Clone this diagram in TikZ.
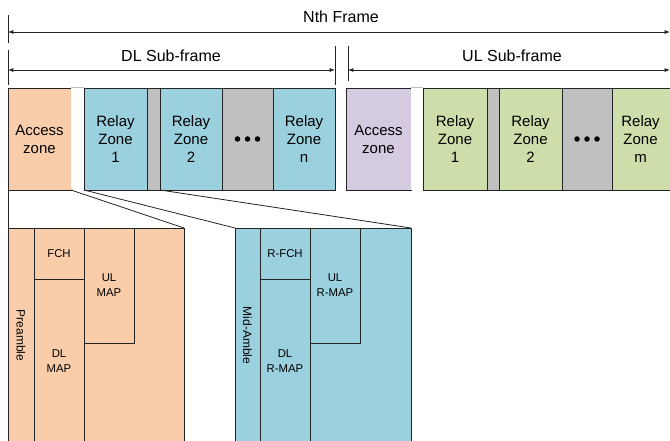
\documentclass[tikz,border=0pt]{standalone}
\usepackage{fontspec}
\setmainfont{Liberation Sans}
\usetikzlibrary{arrows.meta}
\definecolor{peach}{RGB}{250,205,170}
\definecolor{zblue}{RGB}{155,208,222}
\definecolor{zgray}{RGB}{192,192,192}
\definecolor{zpurple}{RGB}{213,203,225}
\definecolor{zgreen}{RGB}{205,222,170}
\definecolor{edge}{RGB}{35,35,35}
\newcommand\zonefont{\fontsize{11.25}{13.5}\selectfont}
\newcommand\lblfont{\fontsize{12}{14}\selectfont}
\newcommand\smallfont{\fontsize{8.5}{11.25}\selectfont}
\newcommand\rotfont{\fontsize{9}{11}\selectfont}
\begin{document}
\begin{tikzpicture}[x=0.75pt,y=-0.75pt,
  sz/.style 2 args={minimum width=#1*0.75pt,minimum height=#2*0.75pt},
  zone/.style={draw=edge,line width=0.7pt,inner sep=0pt,outer sep=0pt,anchor=north west,align=center,font=\zonefont},
  sbox/.style={zone,font=\smallfont},
  gapbox/.style={fill=white,inner sep=0pt,outer sep=0pt,anchor=north west},
  ztext/.style={align=center,font=\zonefont,inner sep=0pt},
  lbl/.style={font=\lblfont,inner sep=0pt},
  rotlbl/.style={font=\rotfont,inner sep=0pt,rotate=-90},
  dot/.style={circle,fill=black,inner sep=0pt,minimum size=5.5*0.75pt},
  dim/.style={draw=edge,line width=0.6pt,{Latex[length=4pt,width=3pt]}-{Latex[length=4pt,width=3pt]}},
  tick/.style={draw=edge,line width=0.6pt},
  conn/.style={draw=edge,line width=0.6pt}]
\useasboundingbox (0,0) rectangle (670,441);
\clip (0,0) rectangle (670,441);
% dimension lines
\node[lbl] (nth) at (341,17) {Nth Frame};
\coordinate (nthL) at (8,32); \coordinate (nthR) at (670,32);
\draw[dim] (nthL) -- (nthR);
\coordinate (t1a) at (8,15); \coordinate (t1b) at (8,43);
\draw[tick] (t1a) -- (t1b);
\node[lbl] (dlsf) at (171,56) {DL Sub-frame};
\coordinate (dlL) at (8,70); \coordinate (dlR) at (335,70);
\draw[dim] (dlL) -- (dlR);
\coordinate (t2a) at (8,50); \coordinate (t2b) at (8,85);
\draw[tick] (t2a) -- (t2b);
\coordinate (t3a) at (335,46); \coordinate (t3b) at (335,85);
\draw[tick] (t3a) -- (t3b);
\node[lbl] (ulsf) at (512,56) {UL Sub-frame};
\coordinate (ulL) at (348,70); \coordinate (ulR) at (670,70);
\draw[dim] (ulL) -- (ulR);
\coordinate (t4a) at (348,46); \coordinate (t4b) at (348,81);
\draw[tick] (t4a) -- (t4b);
% DL sub-frame zones
\node[zone,fill=peach,sz={63}{102}] (dacc) at (8,88) {Access\\zone};
\node[gapbox,sz={13}{102}] (dgap) at (71,88) {};
\draw[gray!50,line width=0.75pt] (dgap.north west) -- (dgap.north east);
\node[zone,fill=zblue,sz={63}{102}] (dr1) at (84,88) {Relay\\Zone\\1};
\node[zone,fill=zgray,sz={13}{102}] (dg1) at (147,88) {};
\node[zone,fill=zblue,sz={62}{102}] (dr2) at (160,88) {Relay\\Zone\\2};
\node[zone,fill=zgray,sz={51}{102}] (ddots) at (222,88) {};
\node[zone,fill=zblue,sz={62}{102}] (drn) at (273,88) {Relay\\Zone\\n};
\node[dot] (dd1) at ([xshift=-10*0.75pt]ddots.center) {};
\node[dot] (dd2) at (ddots.center) {};
\node[dot] (dd3) at ([xshift=10*0.75pt]ddots.center) {};
% UL sub-frame zones
\node[zone,fill=zpurple,sz={65}{102}] (uacc) at (346,88) {Access\\zone};
\node[gapbox,sz={12}{102}] (ugap) at (411,88) {};
\draw[gray!50,line width=0.75pt] (ugap.north west) -- (ugap.north east);
\node[zone,fill=zgreen,sz={64}{102}] (ur1) at (423,88) {Relay\\Zone\\1};
\node[zone,fill=zgray,sz={12}{102}] (ug1) at (487,88) {};
\node[zone,fill=zgreen,sz={63}{102}] (ur2) at (499,88) {Relay\\Zone\\2};
\node[zone,fill=zgray,sz={50}{102}] (udots) at (562,88) {};
\node[zone,fill=zgreen,sz={64}{102}] (urm) at (612,88) {};
\node[ztext] (urmt) at ([xshift=-3.5*0.75pt]urm.center) {Relay\\Zone\\m};
\node[dot] (ud1) at ([xshift=-10*0.75pt]udots.center) {};
\node[dot] (ud2) at (udots.center) {};
\node[dot] (ud3) at ([xshift=10*0.75pt]udots.center) {};
% access zone detail
\node[zone,fill=peach,sz={176}{215}] (lp) at (8,228) {};
\node[zone,fill=peach,sz={26}{215}] (pre) at (8,228) {};
\node[rotlbl] (pret) at (pre.center) {Preamble};
\node[sbox,fill=peach,sz={50}{51}] (fch) at (34,228) {FCH};
\node[sbox,fill=peach,sz={50}{164}] (dlmap) at (34,279) {DL\\MAP};
\node[sbox,fill=peach,sz={50}{115}] (ulmap) at (84,228) {UL\\MAP};
% relay zone detail
\node[zone,fill=zblue,sz={176}{215}] (rp) at (235,228) {};
\node[zone,fill=zblue,sz={25}{215}] (mid) at (235,228) {};
\node[rotlbl] (midt) at (mid.center) {Mid-Amble};
\node[sbox,fill=zblue,sz={50}{51}] (rfch) at (260,228) {R-FCH};
\node[sbox,fill=zblue,sz={50}{164}] (dlrmap) at (260,279) {DL\\R-MAP};
\node[sbox,fill=zblue,sz={50}{115}] (ulrmap) at (310,228) {UL\\R-MAP};
% connectors
\draw[conn] (dacc.south west) -- (lp.north west);
\draw[conn] (dacc.south east) -- (lp.north east);
\draw[conn] (dr1.south west) -- (rp.north west);
\draw[conn] (dg1.south east) -- (rp.north east);
\end{tikzpicture}
\end{document}
